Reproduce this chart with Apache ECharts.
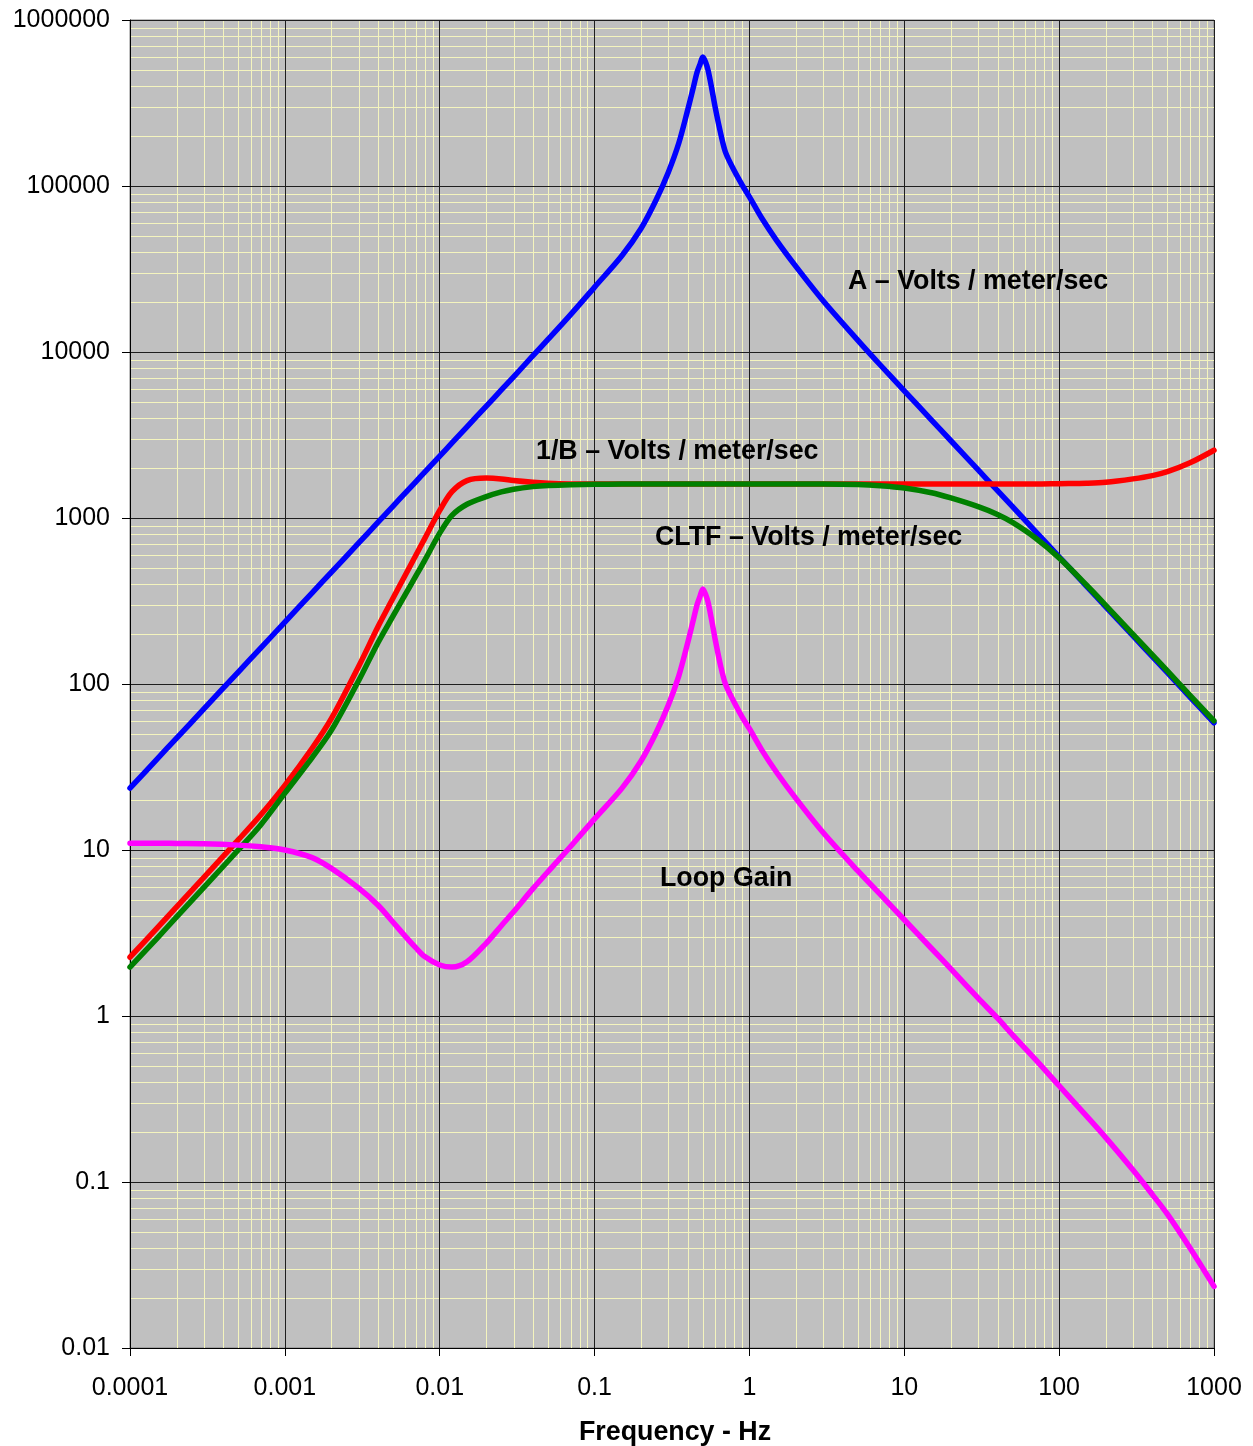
<!DOCTYPE html>
<html><head><meta charset="utf-8">
<script src="https://cdn.jsdelivr.net/npm/echarts@6/dist/echarts.min.js"></script>
<style>html,body{margin:0;padding:0;background:#fff}#c{width:1253px;height:1446px}</style>
</head><body><div id="c"></div><script>
// Frequencies (Hz)
const freqs = [0.0001, 0.00015, 0.0002, 0.0003, 0.0005, 0.0007, 0.001, 0.0015, 0.002, 0.003,
  0.004, 0.005, 0.006, 0.007, 0.008, 0.01, 0.012, 0.015, 0.02, 0.025,
  0.03, 0.04, 0.05, 0.07, 0.1, 0.15, 0.2, 0.25, 0.3, 0.35,
  0.4, 0.43, 0.46, 0.48, 0.5, 0.52, 0.54, 0.57, 0.6, 0.65,
  0.7, 0.8, 0.9, 1, 1.2, 1.5, 2, 3, 5, 7,
  10, 15, 20, 30, 40, 50, 70, 100, 150, 200,
  300, 400, 500, 700, 1000];
// A - Volts / meter/sec
const aVals = [23.6, 35.4, 47.2, 70.8, 118, 165, 236, 354, 472, 708,
  944, 1180, 1416, 1652, 1888, 2360, 2832, 3540, 4722, 5906,
  7090, 9500, 11900, 16800, 24600, 38000, 55700, 82600, 121600, 181500,
  289000, 378000, 487000, 542000, 598000, 560000, 500000, 390000, 300000, 210000,
  160000, 123000, 101000, 86000, 64100, 46900, 32700, 20300, 11800, 8350,
  5840, 3890, 2920, 1950, 1460, 1170, 834, 584, 389, 292,
  195, 146, 117, 83.4, 58.4];
// 1/B - Volts / meter/sec
const invBVals = [2.26, 3.4, 4.55, 6.85, 11.5, 16.3, 24.5, 41, 62, 128,
  222, 330, 454, 595, 751, 1110, 1440, 1680, 1740, 1720,
  1680, 1640, 1620, 1605, 1600, 1600, 1600, 1600, 1600, 1600,
  1600, 1600, 1600, 1600, 1600, 1600, 1600, 1600, 1600, 1600,
  1600, 1600, 1600, 1600, 1600, 1600, 1600, 1600, 1600, 1600,
  1600, 1600, 1600, 1600, 1600, 1600, 1600, 1610, 1620, 1640,
  1720, 1800, 1900, 2150, 2560];
// CLTF - Volts / meter/sec
const cltfVals = [1.97, 2.95, 3.95, 5.95, 10.0, 14.2, 22, 36, 52.7, 105,
  178, 257, 347, 446, 556, 810, 1037, 1210, 1345, 1435,
  1490, 1545, 1570, 1588, 1596, 1600, 1600, 1600, 1600, 1600,
  1600, 1600, 1600, 1600, 1600, 1600, 1600, 1600, 1600, 1600,
  1600, 1600, 1600, 1600, 1600, 1600, 1600, 1600, 1590, 1565,
  1517, 1420, 1320, 1170, 1050, 940, 760, 575, 395, 298,
  199, 150, 120, 85.5, 60];
// Loop Gain
const loopGainVals = [11.0, 11.0, 10.95, 10.9, 10.7, 10.45, 10.0, 9.0, 7.75, 5.9,
  4.65, 3.67, 3.02, 2.58, 2.28, 2.03, 1.97, 2.12, 2.75, 3.5,
  4.25, 5.85, 7.4, 10.5, 15.4, 23.5, 34.5, 51, 75, 112,
  178, 234, 302, 338, 374, 348, 312, 243, 187, 130,
  100, 77, 63, 53.8, 40.1, 29.3, 20.4, 12.7, 7.5, 5.4,
  3.8, 2.55, 1.92, 1.28, 0.97, 0.77, 0.55, 0.38, 0.25, 0.185,
  0.118, 0.084, 0.064, 0.040, 0.0235];

const xTickLabels = ['0.0001', '0.001', '0.01', '0.1', '1', '10', '100', '1000'];
const yTickLabels = ['0.01', '0.1', '1', '10', '100', '1000', '10000', '100000', '1000000'];
const minorMults = [2, 3, 4, 5, 6, 7, 8, 9];

const X_MIN_EXP = -4, X_MAX_EXP = 3, Y_MIN_EXP = -2, Y_MAX_EXP = 6;

const xMinor = [], yMinor = [];
for (let e = X_MIN_EXP; e < X_MAX_EXP; e++) minorMults.forEach(m => xMinor.push([m * Math.pow(10, e), 1]));
for (let e = Y_MIN_EXP; e < Y_MAX_EXP; e++) minorMults.forEach(m => yMinor.push([1, m * Math.pow(10, e)]));

const pair = vals => freqs.map((f, i) => [f, vals[i]]);

const FONT = "'Liberation Sans', Arial, Helvetica, sans-serif";
const MINOR_COLOR = '#f4f4be';

const chart = echarts.init(document.getElementById('c'), null, {renderer: 'canvas'});

function vLine(params, api) {
  const cs = params.coordSys;
  const p = api.coord([api.value(0), 1]);
  const x = Math.round(p[0]) + 0.5;
  return {type: 'line', shape: {x1: x, y1: cs.y, x2: x, y2: cs.y + cs.height},
    style: {stroke: MINOR_COLOR, lineWidth: 1}};
}
function hLine(params, api) {
  const cs = params.coordSys;
  const p = api.coord([1, api.value(1)]);
  const y = Math.round(p[1]) + 0.5;
  return {type: 'line', shape: {x1: cs.x, y1: y, x2: cs.x + cs.width, y2: y},
    style: {stroke: MINOR_COLOR, lineWidth: 1}};
}

const curve = (name, vals, color) => ({
  name, type: 'line', data: pair(vals), showSymbol: false, symbol: 'none',
  smooth: 0.3, z: 5, silent: true, animation: false,
  lineStyle: {color, width: 5.5, cap: 'round', join: 'round'}
});

const TXT = 26.8;
const annotation = (text, left, cy) => ({
  type: 'text', left: left, top: cy - 11.4, z: 20,
  style: {text, fill: '#000', font: 'bold ' + TXT + 'px ' + FONT}
});

chart.setOption({
  animation: false,
  backgroundColor: '#ffffff',
  grid: {left: 130, right: 39, top: 20, bottom: 98, show: true,
    backgroundColor: '#c0c0c0', borderColor: '#808080', borderWidth: 1},
  xAxis: {
    type: 'log', logBase: 10, min: Math.pow(10, X_MIN_EXP), max: Math.pow(10, X_MAX_EXP), z: 3,
    axisLine: {show: true, onZero: false, lineStyle: {color: '#000', width: 1}},
    axisTick: {show: true, length: 8, inside: false, lineStyle: {color: '#000'}},
    splitLine: {show: true, lineStyle: {color: '#1e1e1e', width: 1}},
    minorTick: {show: false}, minorSplitLine: {show: false},
    axisLabel: {show: true, margin: 28, color: '#000', fontSize: 25, fontFamily: FONT,
      formatter: v => xTickLabels[Math.round(Math.log10(v)) - X_MIN_EXP]}
  },
  yAxis: {
    type: 'log', logBase: 10, min: Math.pow(10, Y_MIN_EXP), max: Math.pow(10, Y_MAX_EXP), z: 3,
    axisLine: {show: true, onZero: false, lineStyle: {color: '#000', width: 1}},
    axisTick: {show: true, length: 8, inside: false, lineStyle: {color: '#000'}},
    splitLine: {show: true, lineStyle: {color: '#1e1e1e', width: 1}},
    minorTick: {show: false}, minorSplitLine: {show: false},
    axisLabel: {show: true, margin: 20, color: '#000', fontSize: 25, fontFamily: FONT,
      padding: [4, 0, 0, 0],
      formatter: v => yTickLabels[Math.round(Math.log10(v)) - Y_MIN_EXP]}
  },
  series: [
    {type: 'custom', renderItem: vLine, data: xMinor, z: 1, silent: true, clip: true, encode: {x: 0, y: 1}},
    {type: 'custom', renderItem: hLine, data: yMinor, z: 1, silent: true, clip: true, encode: {x: 0, y: 1}},
    curve('A – Volts / meter/sec', aVals, '#0000ff'),
    curve('1/B – Volts / meter/sec', invBVals, '#ff0000'),
    curve('CLTF – Volts / meter/sec', cltfVals, '#008000'),
    curve('Loop Gain', loopGainVals, '#ff00ff')
  ],
  graphic: [
    annotation('A – Volts / meter/sec', 848, 280),
    annotation('1/B – Volts / meter/sec', 536, 450),
    annotation('CLTF – Volts / meter/sec', 655, 536),
    annotation('Loop Gain', 660, 877),
    {type: 'text', left: 579, top: 1419.6, z: 20,
      style: {text: 'Frequency - Hz', fill: '#000', font: 'bold ' + TXT + 'px ' + FONT}}
  ]
});
</script></body></html>
